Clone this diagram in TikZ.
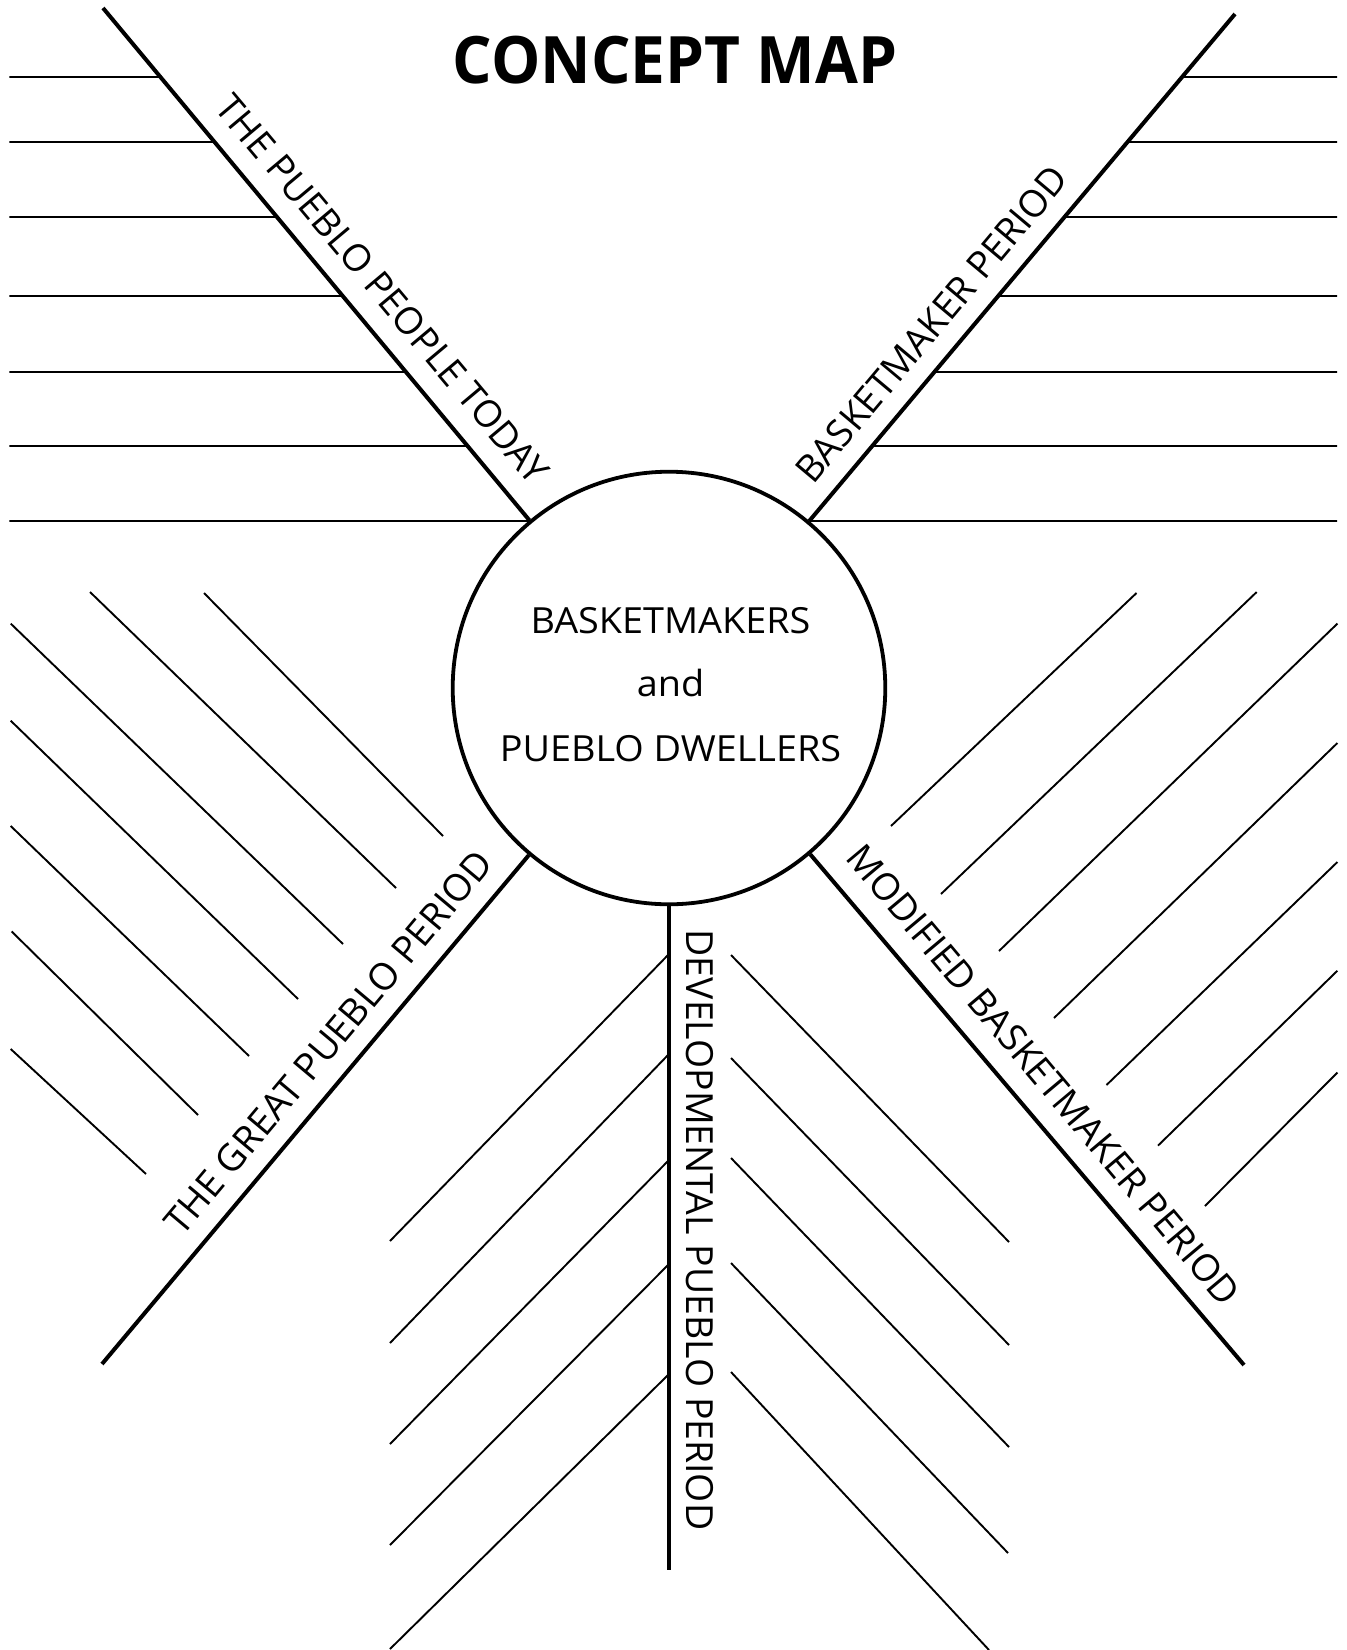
\documentclass[tikz,border=0pt]{standalone}
\usepackage{fontspec}
\setmainfont{Open Sans}
\newfontfamily\titlefont[FakeStretch=0.95]{Open Sans}
\newfontfamily\hubfont[FakeStretch=1.05]{Open Sans}
\begin{document}
\begin{tikzpicture}[x=0.5pt,y=-0.5pt,
  mainline/.style={line width=2.0pt},
  guide/.style={line width=0.95pt},
  lbl/.style={font=\fontsize{18.7}{22}\selectfont, inner sep=0pt, anchor=base},
  ctr/.style={font=\hubfont\fontsize{18}{21}\selectfont, inner sep=0pt, anchor=base},
  hub/.style={circle, draw, line width=1.9pt, minimum size=216.3pt, inner sep=0pt},
  ttl/.style={font=\titlefont\bfseries\fontsize{32.7}{40}\selectfont, inner sep=0pt, anchor=base}
]
\useasboundingbox (0,0) rectangle (1346,1650);
% title
\node[ttl] (title) at (675,83.3) {CONCEPT MAP};
% centre
\node[hub] (c) at (669,688) {};
\node[ctr] (ct1) at (670.5,633.3) {BASKETMAKERS};
\node[ctr] (ct2) at (670.5,696.7) {and};
\node[ctr] (ct3) at (670.5,761.7) {PUEBLO DWELLERS};
% spoke ends
\coordinate (ul) at (103,8);
\coordinate (ur) at (1235,14);
\coordinate (ll) at (102,1364);
\coordinate (lr) at (1244,1365);
\coordinate (vb) at (669,1570);
\draw[mainline] (c) -- (ul);
\draw[mainline] (c) -- (ur);
\draw[mainline] (c) -- (ll);
\draw[mainline] (c) -- (lr);
\draw[mainline] (c) -- (vb);
% spoke labels
\node[lbl, rotate=-50] (lab1) at (372.3,297.7) {THE PUEBLO PEOPLE TODAY};
\node[lbl, rotate=50] (lab2) at (941.9,332.8) {BASKETMAKER PERIOD};
\node[lbl, rotate=50] (lab3) at (338.6,1050.9) {THE GREAT PUEBLO PERIOD};
\node[lbl, rotate=-50] (lab4) at (1033.6,1083.2) {MODIFIED BASKETMAKER PERIOD};
\node[lbl, rotate=-90] (lab5) at (686,1230) {DEVELOPMENTAL PUEBLO PERIOD};
% horizontal writing lines
\foreach \yy in {77,142,217,296,372,446,521} {
  \draw[guide] (9.4,\yy) -- (intersection of ul--c and 0,\yy--1,\yy);
  \draw[guide] (intersection of ur--c and 0,\yy--1,\yy) -- (1337,\yy);
}
% lower-left group
\foreach \xa/\ya/\xb/\yb in {204/593/443/836, 90/592/396/888, 10.7/623.6/343/944,
  10.7/720.7/298/999, 10.7/826/249/1056, 11.6/931.4/198/1115, 10.7/1049/146/1174} {
  \draw[guide] (\xa,\ya) -- (\xb,\yb);
}
% lower-right group
\foreach \xa/\ya/\xb/\yb in {1136.5/593/891/826, 1256.7/592/941/894, 1337.4/623.6/999/951,
  1337.4/743/1054/1018, 1337.4/862/1106.5/1085, 1337.4/970.7/1158/1145.6, 1337.4/1072.5/1205/1206} {
  \draw[guide] (\xa,\ya) -- (\xb,\yb);
}
% bottom groups beside the vertical spoke
\foreach \ya/\yb in {955/1241, 1055/1343, 1161/1444, 1265/1545, 1375/1649} {
  \draw[guide] (668,\ya) -- (390,\yb);
}
\foreach \xa/\ya/\xb/\yb in {731/955/1009/1242, 731/1058/1009/1345, 731/1158/1009/1447,
  731/1263/1008/1553, 731/1372/989/1650} {
  \draw[guide] (\xa,\ya) -- (\xb,\yb);
}
\end{tikzpicture}
\end{document}
